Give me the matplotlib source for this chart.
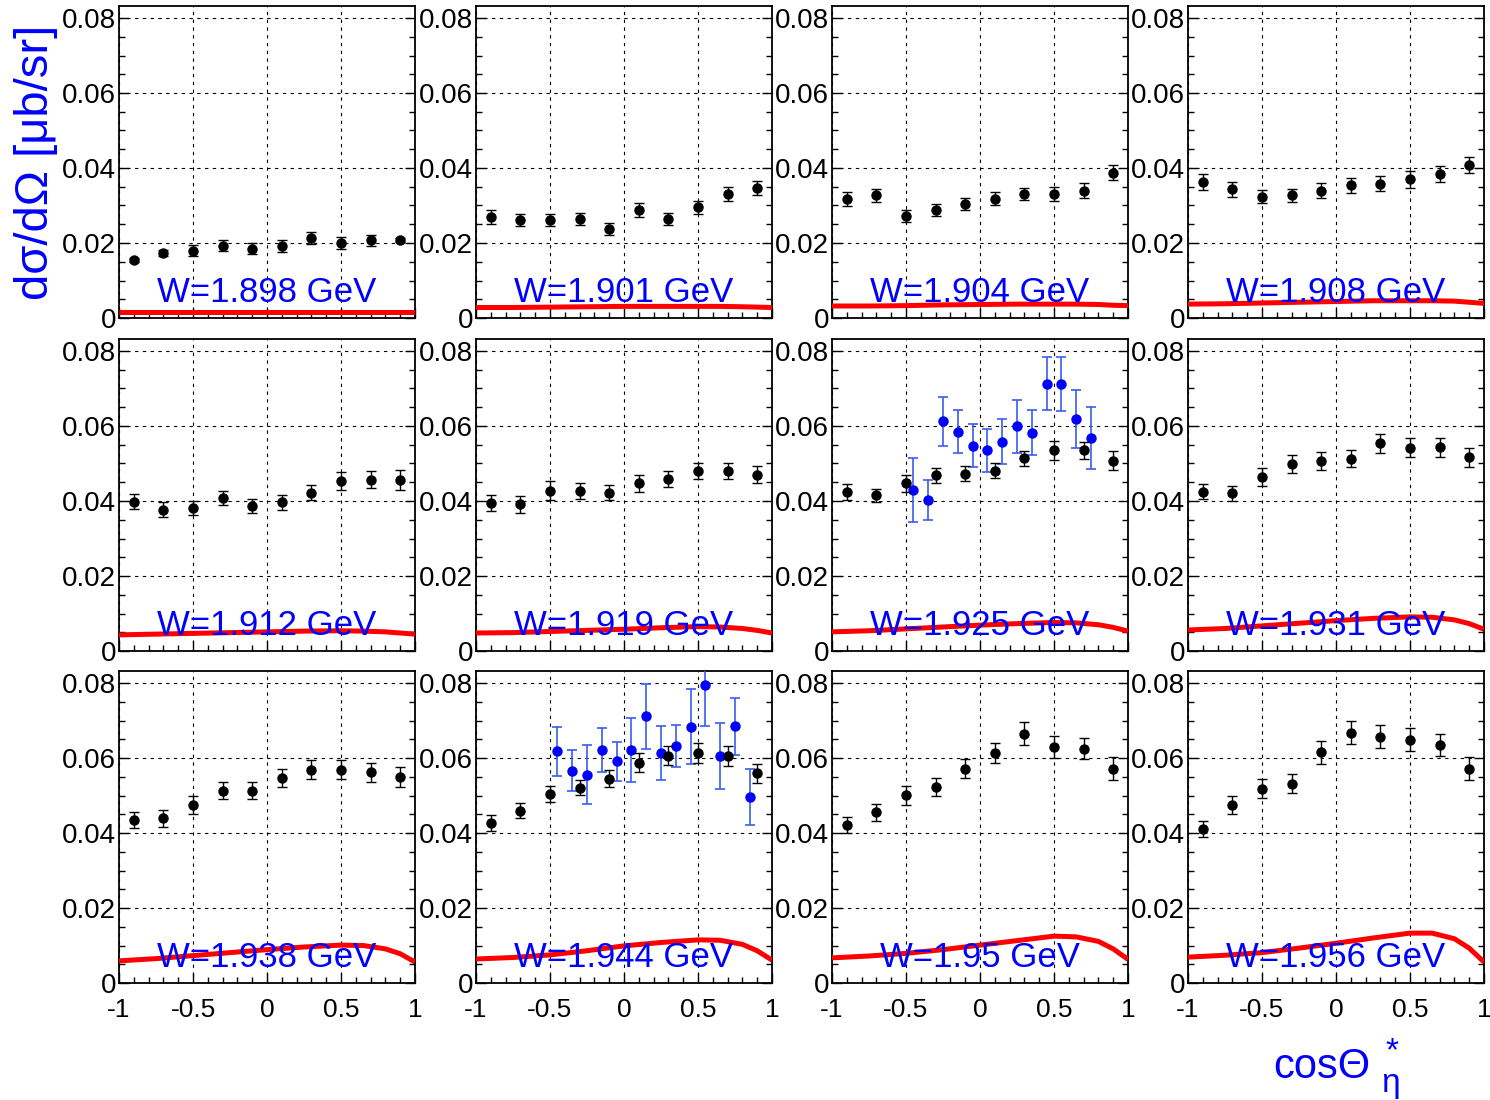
import numpy as np
import matplotlib
matplotlib.use("Agg")
import matplotlib.pyplot as plt
from matplotlib.ticker import MultipleLocator

plt.rcParams['font.family'] = ['Liberation Sans', 'DejaVu Sans']
plt.rcParams['axes.unicode_minus'] = False

w_labels = ['W=1.898 GeV', 'W=1.901 GeV', 'W=1.904 GeV', 'W=1.908 GeV',
            'W=1.912 GeV', 'W=1.919 GeV', 'W=1.925 GeV', 'W=1.931 GeV',
            'W=1.938 GeV', 'W=1.944 GeV', 'W=1.95 GeV', 'W=1.956 GeV']

# black data: 10 bins in cos(theta)
x_black = [-0.9, -0.7, -0.5, -0.3, -0.1, 0.1, 0.3, 0.5, 0.7, 0.9]
y_black = [
    [0.0155, 0.0173, 0.0180, 0.0193, 0.0185, 0.0193, 0.0214, 0.0200, 0.0207, 0.0208],
    [0.0270, 0.0262, 0.0262, 0.0264, 0.0237, 0.0288, 0.0264, 0.0295, 0.0331, 0.0347],
    [0.0318, 0.0327, 0.0271, 0.0288, 0.0304, 0.0318, 0.0331, 0.0331, 0.0339, 0.0387],
    [0.0363, 0.0343, 0.0324, 0.0327, 0.0339, 0.0354, 0.0358, 0.0370, 0.0384, 0.0408],
    [0.0398, 0.0377, 0.0381, 0.0407, 0.0387, 0.0396, 0.0422, 0.0453, 0.0457, 0.0456],
    [0.0394, 0.0391, 0.0427, 0.0427, 0.0422, 0.0447, 0.0458, 0.0480, 0.0480, 0.0470],
    [0.0423, 0.0415, 0.0447, 0.0468, 0.0473, 0.0480, 0.0514, 0.0535, 0.0535, 0.0507],
    [0.0425, 0.0420, 0.0464, 0.0499, 0.0506, 0.0513, 0.0554, 0.0542, 0.0543, 0.0516],
    [0.0434, 0.0439, 0.0475, 0.0513, 0.0513, 0.0547, 0.0569, 0.0569, 0.0562, 0.0549],
    [0.0427, 0.0460, 0.0504, 0.0521, 0.0545, 0.0588, 0.0606, 0.0613, 0.0606, 0.0559],
    [0.0422, 0.0455, 0.0501, 0.0523, 0.0572, 0.0613, 0.0665, 0.0629, 0.0625, 0.0572],
    [0.0410, 0.0476, 0.0518, 0.0532, 0.0615, 0.0668, 0.0657, 0.0649, 0.0635, 0.0572],
]
e_black = [
    [0.0005, 0.0008, 0.0014, 0.0015, 0.0015, 0.0016, 0.0016, 0.0016, 0.0014, 0.0006],
    [0.0018, 0.0016, 0.0016, 0.0016, 0.0016, 0.0018, 0.0016, 0.0018, 0.0018, 0.0018],
    [0.0019, 0.0018, 0.0016, 0.0016, 0.0017, 0.0017, 0.0017, 0.0019, 0.0020, 0.0020],
    [0.0022, 0.0020, 0.0017, 0.0017, 0.0020, 0.0020, 0.0020, 0.0022, 0.0022, 0.0022],
    [0.0020, 0.0020, 0.0019, 0.0019, 0.0019, 0.0019, 0.0020, 0.0025, 0.0023, 0.0027],
    [0.0022, 0.0022, 0.0025, 0.0022, 0.0020, 0.0022, 0.0022, 0.0022, 0.0022, 0.0022],
    [0.0021, 0.0018, 0.0022, 0.0019, 0.0020, 0.0020, 0.0020, 0.0025, 0.0022, 0.0025],
    [0.0021, 0.0020, 0.0024, 0.0024, 0.0024, 0.0022, 0.0025, 0.0025, 0.0026, 0.0026],
    [0.0021, 0.0022, 0.0023, 0.0022, 0.0022, 0.0025, 0.0025, 0.0025, 0.0025, 0.0026],
    [0.0021, 0.0021, 0.0022, 0.0020, 0.0022, 0.0025, 0.0025, 0.0027, 0.0027, 0.0025],
    [0.0021, 0.0022, 0.0025, 0.0025, 0.0026, 0.0027, 0.0030, 0.0030, 0.0028, 0.0030],
    [0.0021, 0.0024, 0.0025, 0.0025, 0.0030, 0.0030, 0.0030, 0.0030, 0.0030, 0.0030],
]

# blue data, finer binning (only two W bins)
x_blue_1925 = [-0.45, -0.35, -0.25, -0.15, -0.05, 0.05, 0.15, 0.25, 0.35, 0.45, 0.55, 0.65, 0.75]
y_blue_1925 = [0.0430, 0.0403, 0.0612, 0.0585, 0.0547, 0.0535, 0.0558, 0.0599, 0.0582,
               0.0713, 0.0712, 0.0619, 0.0568]
e_blue_1925 = [0.0085, 0.0054, 0.0066, 0.0057, 0.0057, 0.0057, 0.0060, 0.0071, 0.0060,
               0.0070, 0.0072, 0.0078, 0.0082]
x_blue_1944 = [-0.45, -0.35, -0.25, -0.15, -0.05, 0.05, 0.15, 0.25, 0.35, 0.45, 0.55, 0.65, 0.75, 0.85]
y_blue_1944 = [0.0618, 0.0566, 0.0556, 0.0622, 0.0591, 0.0621, 0.0711, 0.0613, 0.0632,
               0.0683, 0.0794, 0.0606, 0.0685, 0.0496]
e_blue_1944 = [0.0065, 0.0055, 0.0079, 0.0059, 0.0052, 0.0085, 0.0086, 0.0072, 0.0057,
               0.0100, 0.0108, 0.0088, 0.0076, 0.0075]
blue_sets = {6: (x_blue_1925, y_blue_1925, e_blue_1925),
             9: (x_blue_1944, y_blue_1944, e_blue_1944)}

# model curves (red)
x_curve = [-1.0, -0.75, -0.5, -0.25, 0.0, 0.25, 0.5, 0.65, 0.8, 0.9, 1.0]
y_curve = [
    [0.0017, 0.0017, 0.0017, 0.0017, 0.0017, 0.0017, 0.0017, 0.0017, 0.0017, 0.0017, 0.0017],
    [0.0028, 0.0028, 0.0029, 0.0030, 0.0031, 0.0031, 0.0031, 0.0031, 0.0030, 0.0029, 0.0028],
    [0.0032, 0.0032, 0.0033, 0.0035, 0.0036, 0.0037, 0.0037, 0.0037, 0.0036, 0.0034, 0.0033],
    [0.0037, 0.0038, 0.0040, 0.0042, 0.0044, 0.0046, 0.0046, 0.0046, 0.0045, 0.0042, 0.0039],
    [0.0043, 0.0045, 0.0047, 0.0049, 0.0051, 0.0053, 0.0054, 0.0053, 0.0051, 0.0048, 0.0045],
    [0.0048, 0.0049, 0.0052, 0.0055, 0.0058, 0.0062, 0.0065, 0.0064, 0.0060, 0.0055, 0.0048],
    [0.0051, 0.0054, 0.0059, 0.0064, 0.0069, 0.0073, 0.0076, 0.0075, 0.0070, 0.0063, 0.0053],
    [0.0056, 0.0060, 0.0067, 0.0074, 0.0081, 0.0087, 0.0091, 0.0090, 0.0083, 0.0073, 0.0058],
    [0.0059, 0.0065, 0.0073, 0.0081, 0.0089, 0.0096, 0.0101, 0.0100, 0.0091, 0.0078, 0.0056],
    [0.0064, 0.0068, 0.0075, 0.0086, 0.0099, 0.0108, 0.0115, 0.0114, 0.0103, 0.0086, 0.0061],
    [0.0067, 0.0072, 0.0079, 0.0089, 0.0101, 0.0113, 0.0125, 0.0123, 0.0111, 0.0091, 0.0063],
    [0.0069, 0.0074, 0.0081, 0.0093, 0.0106, 0.0120, 0.0133, 0.0133, 0.0118, 0.0093, 0.0056],
]

x_ticks = [-1, -0.5, 0, 0.5, 1]
x_ticklabels = ['-1', '-0.5', '0', '0.5', '1']
y_ticks = [0, 0.02, 0.04, 0.06, 0.08]
y_ticklabels = ['0', '0.02', '0.04', '0.06', '0.08']

W, H = 1490, 1100
fig = plt.figure(figsize=(W / 100, H / 100), dpi=100)

col_left = [119, 476, 832, 1188]
row_top = [6, 339, 671]
pw, ph = 296, 312

for i in range(12):
    r, c = divmod(i, 4)
    ax = fig.add_axes([col_left[c] / W, 1 - (row_top[r] + ph) / H, pw / W, ph / H])
    ax.set_xlim(-1, 1)
    ax.set_ylim(0, 0.0832)

    ax.plot(x_curve, y_curve[i], color='#ff0000', lw=3.6, zorder=3, solid_capstyle='butt')
    ax.text(0.5, 0.05, w_labels[i], transform=ax.transAxes, ha='center', va='baseline',
            color='#0000ff', fontsize=25, zorder=4)

    if i in blue_sets:
        bx, by, be = blue_sets[i]
        ax.errorbar(bx, by, yerr=be, fmt='o', color='#0000ff', ecolor='#3a5cf0',
                    ms=6.5, elinewidth=1.2, capsize=3.5, capthick=1.2, zorder=5)
    ax.errorbar(x_black, y_black[i], yerr=e_black[i], fmt='o', color='black',
                ecolor='black', ms=6.5, elinewidth=1, capsize=3.5, capthick=1, zorder=6)

    ax.set_xticks(x_ticks)
    ax.set_xticklabels(x_ticklabels)
    ax.set_yticks(y_ticks)
    ax.set_yticklabels(y_ticklabels)
    ax.xaxis.set_minor_locator(MultipleLocator(0.1))
    ax.yaxis.set_minor_locator(MultipleLocator(0.005))
    ax.tick_params(which='both', direction='in', right=True, top=False, width=1, colors='black')
    ax.tick_params(which='major', length=7)
    ax.tick_params(which='minor', length=4)
    ax.tick_params(axis='y', labelsize=20, pad=2)
    ax.tick_params(axis='x', labelsize=19, pad=11, labelbottom=(r == 2))
    ax.grid(True, which='major', linestyle=(0, (3, 4)), color='black', lw=0.8)
    for sp in ax.spines.values():
        sp.set_linewidth(1.3)

fig.text(36 / W, 1 - 162 / H, 'dσ/dΩ [μb/sr]', rotation=90, ha='center', va='center',
         color='#0000ff', fontsize=34)

# x axis title
fig.text(1273 / W, 1 - 1078 / H, 'cosΘ', ha='left', va='baseline', color='#0000ff', fontsize=30)
fig.text(1392 / W, 1 - 1060 / H, '*', ha='center', va='baseline', color='#0000ff', fontsize=24)
fig.text(1391 / W, 1 - 1092 / H, 'η', ha='center', va='baseline', color='#0000ff', fontsize=24)

fig.savefig('out.png', dpi=100)
